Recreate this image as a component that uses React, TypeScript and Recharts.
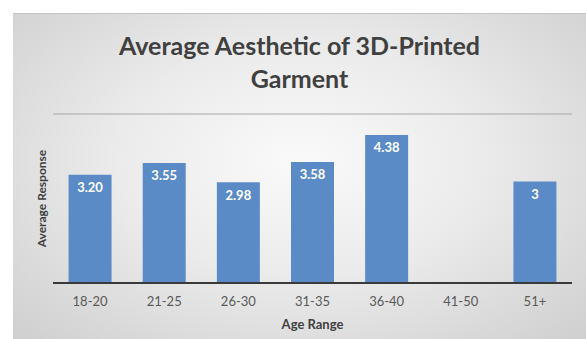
import React from "react";
import { BarChart, Bar, XAxis, YAxis, CartesianGrid, LabelList } from "recharts";

const categories = ["18-20", "21-25", "26-30", "31-35", "36-40", "41-50", "51+"];
const values = [3.2, 3.55, 2.98, 3.58, 4.38, null, 3];
const valueLabels = ["3.20", "3.55", "2.98", "3.58", "4.38", "", "3"];
const yTicks = [0, 1, 2, 3, 4, 5];

const data = categories.map((c, i) => ({ age: c, value: values[i], label: valueLabels[i] }));

const FONT = "Lato, 'Open Sans', sans-serif";

export default function App() {
  return (
    <div style={{ position: "absolute", left: 0, top: 0, width: 586, height: 339, background: "#fff" }}>
      <div
        style={{
          position: "absolute",
          left: 13,
          top: 13,
          width: 573,
          height: 326,
          background: "radial-gradient(ellipse at 50% 45%, #fafafa 0%, #ebebeb 45%, #cfcfcf 100%)",
          borderTop: "1px solid #c4c4c4",
          boxSizing: "border-box",
        }}
      >
        <div
          style={{
            position: "absolute",
            left: 0,
            top: 15,
            width: 573,
            textAlign: "center",
            fontFamily: FONT,
            fontWeight: 700,
            fontSize: 25,
            lineHeight: "33px",
            color: "#404040",
          }}
        >
          Average Aesthetic of 3D-Printed
          <br />
          Garment
        </div>
        <BarChart
          width={573}
          height={325}
          data={data}
          margin={{ top: 100, right: 14, bottom: 0, left: 0 }}
          barCategoryGap="21%"
          style={{ position: "absolute", left: 0, top: 0 }}
        >
          <CartesianGrid vertical={false} stroke="#a8a8a8" />
          <YAxis
            width={40}
            domain={[0, 5]}
            ticks={yTicks}
            tick={false}
            axisLine={false}
            tickLine={false}
            label={{
              value: "Average Response",
              angle: -90,
              position: "center",
              dx: 9,
              style: { fontFamily: FONT, fontWeight: 700, fontSize: 12, fill: "#404040" },
            }}
          />
          <XAxis
            dataKey="age"
            height={56}
            axisLine={{ stroke: "#3a3a3a", strokeWidth: 2 }}
            tickLine={false}
            tickMargin={8}
            tick={{ fontFamily: FONT, fontSize: 13, fill: "#595959" }}
            label={{
              value: "Age Range",
              position: "insideBottom",
              offset: 10,
              style: { fontFamily: FONT, fontWeight: 700, fontSize: 13, fill: "#404040" },
            }}
          />
          <Bar dataKey="value" fill="#5b8bc6" isAnimationActive={false}>
            <LabelList
              dataKey="label"
              position="insideTop"
              offset={8}
              style={{ fontFamily: FONT, fontWeight: 700, fontSize: 13, fill: "#ffffff" }}
            />
          </Bar>
        </BarChart>
      </div>
    </div>
  );
}
